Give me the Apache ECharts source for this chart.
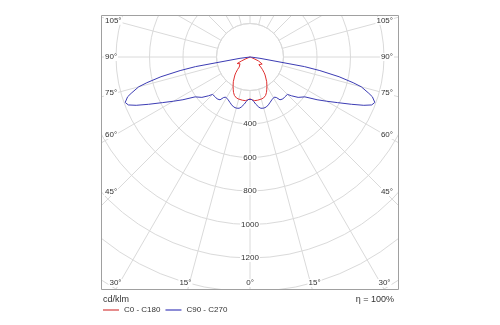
<!DOCTYPE html>
<html><head><meta charset="utf-8">
<script src="https://cdn.jsdelivr.net/npm/echarts@6/dist/echarts.min.js"></script>
<style>html,body{margin:0;padding:0;background:#fff}#c{width:500px;height:325px}</style>
</head><body><div id="c"></div>
<script>
// C0 - C180 plane: gamma angle (deg) and intensity (cd/klm)
const gammaC0 = [0, 3, 6, 10, 15, 18, 22, 25, 27, 30, 34, 37, 40, 42, 45, 47, 49, 52, 56, 60, 63, 65, 67, 70, 75, 80, 90];
const valC0   = [250, 256, 262, 262, 260, 258, 248, 233, 220, 202, 178, 157, 140, 126, 104, 88, 70, 66, 72, 84, 86, 56, 26, 8, 2, 0, 0];
// C90 - C270 plane
const gammaC90 = [0, 2.5, 5, 7, 10, 12, 15, 18, 21, 24, 27, 29, 31, 33, 35, 38, 41, 43, 45, 47, 50, 54, 57.5, 60, 62.5, 65, 67, 68.5, 70, 72, 73, 75, 76, 77.5, 79, 80, 82.5, 85, 90];
const valC90   = [250, 254, 268, 284, 304, 313, 316, 314, 306, 296, 287, 282, 280, 288, 312, 318, 316, 312, 316, 340, 375, 405, 475, 528, 590, 668, 738, 781, 793, 768, 742, 688, 635, 545, 425, 330, 60, 10, 0];
const radiusLabels = [400, 600, 800, 1000, 1200];
const sideAngleLabels = [105, 90, 75, 60, 45];
const bottomAngleLabels = [-30, -15, 0, 15, 30];
const seriesNames = ['C0 - C180', 'C90 - C270'];

// layout
const CX = 250, CY = 57, K = 0.1675, RMAX = 1800;
const BL = 101, BT = 15, BR = 399, BB = 290;
const GRID = '#dadada';
const FONT = '"Liberation Sans Narrow", "Liberation Sans", sans-serif';

function mirror(g, v) {
  const out = [];
  for (let i = g.length - 1; i >= 0; i--) out.push([v[i], g[i]]);
  for (let i = 0; i < g.length; i++) out.push([v[i], 360 - g[i]]);
  return out;
}

const graphics = [];
graphics.push({ type: 'circle', z: 1, silent: true,
  shape: { cx: CX, cy: CY, r: 200 * K },
  style: { fill: '#fff', stroke: GRID, lineWidth: 1 } });
// masks outside the frame
[[0, 0, 500, BT], [0, BB, 500, 325 - BB], [0, 0, BL, 325], [BR, 0, 500 - BR, 325]].forEach(r => {
  graphics.push({ type: 'rect', z: 20, silent: true, shape: { x: r[0], y: r[1], width: r[2], height: r[3] }, style: { fill: '#fff' } });
});
graphics.push({ type: 'rect', z: 21, silent: true, shape: { x: BL + 0.5, y: BT + 0.5, width: BR - BL - 1, height: BB - BT - 1 },
  style: { fill: 'none', stroke: '#a0a0a0', lineWidth: 1 } });
// side angle labels
sideAngleLabels.forEach(a => {
  const dx = CX - (BL + 14);
  const y = CY + dx / Math.tan(a * Math.PI / 180);
  [[BL + 3, 'left'], [BR - 5, 'right']].forEach(p => {
    graphics.push({ type: 'text', z: 22, silent: true,
      style: { text: a + '°', x: p[0], y: y, align: p[1], verticalAlign: 'middle', fill: '#333', font: '8px ' + FONT, backgroundColor: '#fff', padding: [0, 1] } });
  });
});
bottomAngleLabels.forEach(a => {
  const ly = 283;
  let x = CX + Math.sign(a) * ((ly - CY) * Math.tan(Math.abs(a) * Math.PI / 180) + 4);
  x = Math.max(BL + 9, Math.min(BR - 11, x));
  graphics.push({ type: 'text', z: 22, silent: true,
    style: { text: Math.abs(a) + '°', x: x, y: ly, align: 'center', verticalAlign: 'middle', fill: '#333', font: '8px ' + FONT, backgroundColor: '#fff', padding: [0, 1] } });
});
graphics.push({ type: 'text', z: 22, silent: true, style: { text: 'cd/klm', x: 103, y: 300, verticalAlign: 'middle', fill: '#333', font: '9px ' + FONT } });
graphics.push({ type: 'text', z: 22, silent: true, style: { text: 'η = 100%', x: 394, y: 300, align: 'right', verticalAlign: 'middle', fill: '#333', font: '9px ' + FONT } });

const chart = echarts.init(document.getElementById('c'), null, { renderer: 'canvas' });
chart.setOption({
  animation: false,
  backgroundColor: '#fff',
  polar: { center: [CX, CY], radius: RMAX * K },
  angleAxis: {
    type: 'value', min: 0, max: 360, interval: 15, startAngle: -90, clockwise: true, z: 0,
    axisLine: { show: false }, axisTick: { show: false }, axisLabel: { show: false },
    splitLine: { show: true, lineStyle: { color: GRID, width: 1 } }
  },
  radiusAxis: {
    type: 'value', min: 0, max: RMAX, interval: 200, z: 2,
    axisLine: { show: false }, axisTick: { show: false },
    axisLabel: {
      show: true, margin: 0, align: 'center', verticalAlign: 'middle', rotate: 0,
      color: '#333', fontSize: 8, fontFamily: FONT, backgroundColor: '#fff', padding: [0, 1],
      formatter: v => radiusLabels.indexOf(v) >= 0 ? String(v) : ''
    },
    splitLine: { show: true, lineStyle: { color: GRID, width: 1 } }
  },
  legend: {
    z: 40, zlevel: 0, icon: 'rect',
    left: 103, top: 306, itemWidth: 16, itemHeight: 2, itemGap: 5, padding: 0,
    textStyle: { fontSize: 8, color: '#333', fontFamily: FONT },
    data: [
      { name: seriesNames[0], itemStyle: { color: '#e68c8c' } },
      { name: seriesNames[1], itemStyle: { color: '#8c8cd6' } }
    ]
  },
  series: [
    { name: seriesNames[0], type: 'line', coordinateSystem: 'polar', data: mirror(gammaC0, valC0),
      symbol: 'none', clip: false, z: 3, color: '#e03030', lineStyle: { color: '#e03030', width: 1 } },
    { name: seriesNames[1], type: 'line', coordinateSystem: 'polar', data: mirror(gammaC90, valC90),
      symbol: 'none', clip: false, z: 3, color: '#3c3cb4', lineStyle: { color: '#3c3cb4', width: 1 } }
  ],
  graphic: { elements: graphics }
});
</script></body></html>
